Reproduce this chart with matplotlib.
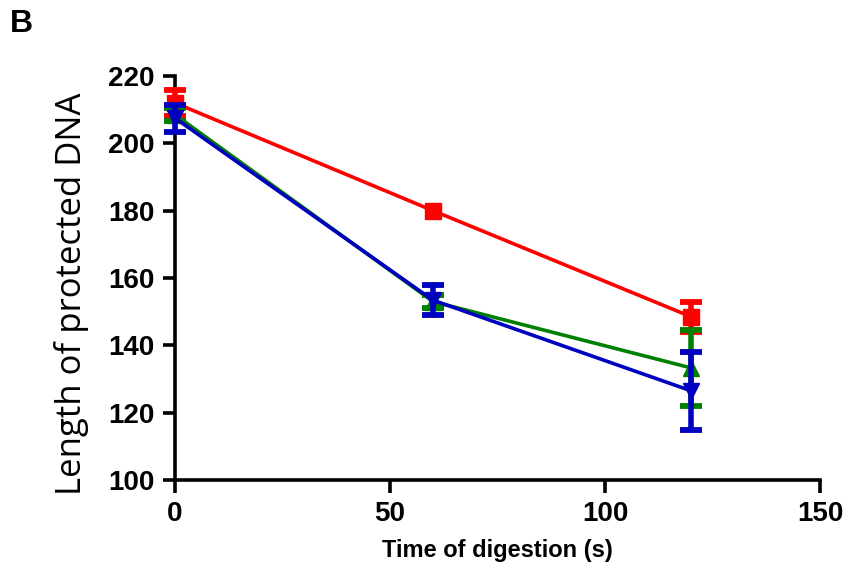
import matplotlib
matplotlib.use("Agg")
import matplotlib.pyplot as plt
import numpy as np

# Digestion time points (s)
time_s = [0, 60, 120]

# Mean protected length and error for each construct (nan = no error bar)
red_mean = [212.0, 180.0, 148.5]
red_err = [3.8, np.nan, 4.5]
green_mean = [208.5, 153.0, 133.3]
green_err = [2.0, 2.0, 11.3]
blue_mean = [207.5, 153.4, 126.5]
blue_err = [4.0, 4.4, 11.6]

x_ticks = [0, 50, 100, 150]
y_ticks = [100, 120, 140, 160, 180, 200, 220]

fig = plt.figure(figsize=(8.5, 5.67), dpi=100)
ax = fig.add_axes([175 / 850, 87 / 567, 645 / 850, 404 / 567])

series = [
    (red_mean, red_err, "#ff0000", "s"),
    (green_mean, green_err, "#008000", "^"),
    (blue_mean, blue_err, "#0000c0", "v"),
]
for i, (mean, err, color, marker) in enumerate(series):
    ax.errorbar(time_s, mean, yerr=err, color=color, marker=marker,
                markersize=11, linewidth=2.6, elinewidth=4, capsize=8,
                capthick=4.2, clip_on=False, zorder=3 + i)

ax.set_xlim(0, 150)
ax.set_ylim(100, 220)
ax.set_xticks(x_ticks)
ax.set_yticks(y_ticks)

for side in ("top", "right"):
    ax.spines[side].set_visible(False)
for side in ("left", "bottom"):
    ax.spines[side].set_linewidth(2.6)
ax.tick_params(axis="both", direction="out", length=9, width=2.6,
               labelsize=20, pad=6)
for lab in ax.get_xticklabels() + ax.get_yticklabels():
    lab.set_fontfamily("Liberation Sans")
    lab.set_fontweight("bold")

ax.set_xlabel("Time of digestion (s)", fontfamily="Liberation Sans",
              fontweight="bold", fontsize=17, labelpad=9)
ax.set_ylabel("Length of protected DNA", fontfamily="Open Sans",
              fontsize=25)
ax.yaxis.set_label_coords(-0.133, 0.46)

fig.text(10 / 850, 1 - 32 / 567, "B", fontfamily="Liberation Sans",
         fontweight="bold", fontsize=23)

fig.savefig("out.png", dpi=100)
